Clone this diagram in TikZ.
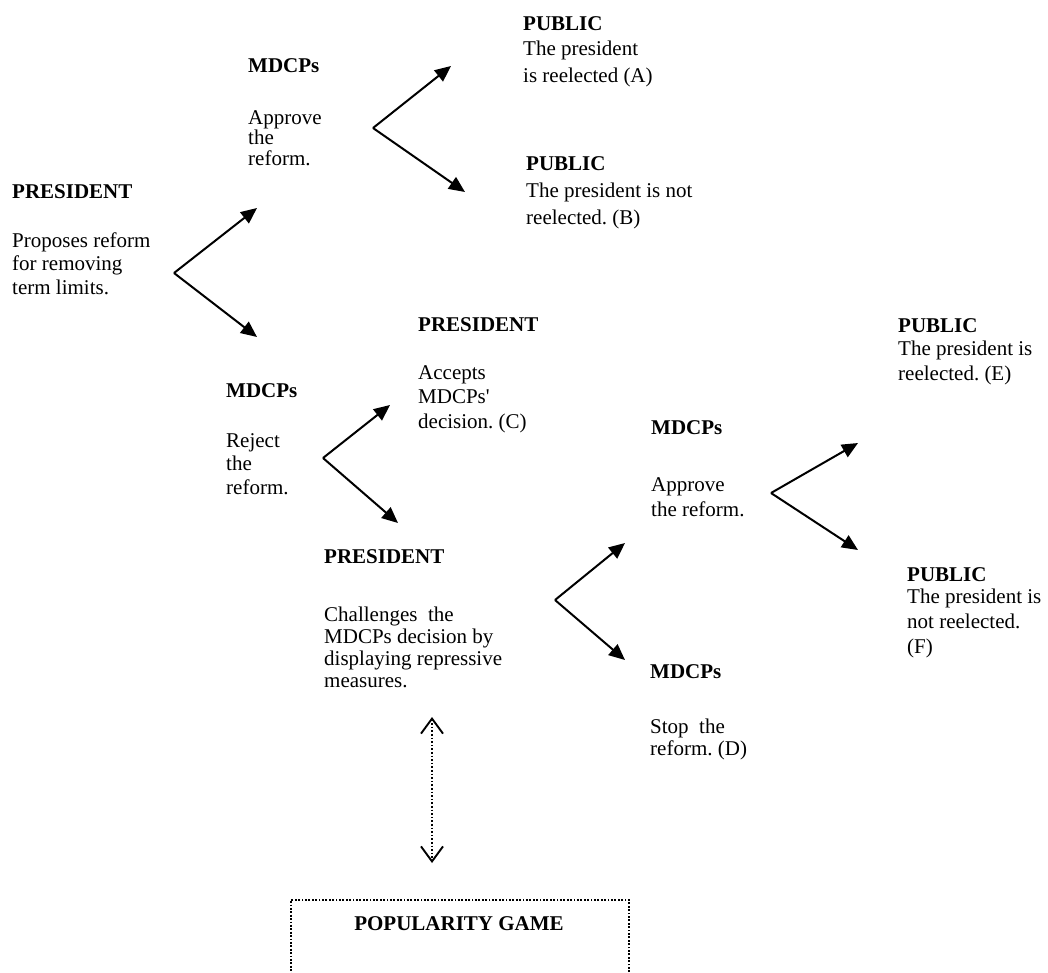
\documentclass[tikz,border=0pt]{standalone}
\usepackage{fontspec}
\setmainfont{Liberation Serif}
\frenchspacing
\usetikzlibrary{arrows.meta}
\begin{document}
\begin{tikzpicture}[x=1pt,y=-1pt,
  head/.style={anchor=base west,inner sep=0pt,font=\fontsize{21}{23}\selectfont\bfseries},
  body/.style={anchor=base west,inner sep=0pt,align=left,font=\fontsize{21}{#1}\selectfont},
  body/.default=23,
  branch/.style={line width=2pt,-{Triangle[length=16pt,width=14pt]}},
  link/.style={line width=1.6pt,dash pattern=on 1.6pt off 2pt,{Straight Barb[length=15pt,width=22pt,line width=1.9pt]}-{Straight Barb[length=15pt,width=22pt,line width=1.9pt]}},
  gamebox/.style={draw,line width=1.8pt,dash pattern=on 1.8pt off 1.6pt,inner sep=0pt,anchor=north west,minimum width=338pt,minimum height=200pt}
]
\useasboundingbox (0,0) rectangle (1048,972);

% texts (body nodes are placed by the baseline of their last line)
\node[head] (rooth) at (12,198) {PRESIDENT};
\node[body=23.5] (root) at (12,294) {Proposes reform\\for removing\\term limits.};

\node[head] (apph) at (248,72) {MDCPs};
\node[body=20.8] (app) at (248,165.6) {Approve\\the\\reform.};

\node[head] (pubAh) at (523,30) {PUBLIC};
\node[body=27] (pubA) at (523,82) {The president\\is reelected (A)};

\node[head] (pubBh) at (526,170) {PUBLIC};
\node[body=27] (pubB) at (526,224) {The president is not\\reelected. (B)};

\node[head] (acch) at (418,331) {PRESIDENT};
\node[body=24.5] (acc) at (418,428) {Accepts\\MDCPs\textquotesingle\\decision. (C)};

\node[head] (rejh) at (226,397) {MDCPs};
\node[body=23.5] (rej) at (226,494) {Reject\\the\\reform.};

\node[head] (chah) at (324,563) {PRESIDENT};
\node[body=22] (cha) at (324,687) {Challenges\ \ the\\MDCPs decision by\\displaying repressive\\measures.};

\node[head] (app2h) at (651,434) {MDCPs};
\node[body=25.5] (app2) at (651,516.5) {Approve\\the reform.};

\node[head] (stoph) at (650,678) {MDCPs};
\node[body=22] (stop) at (650,755) {Stop\ \ the\\reform. (D)};

\node[head] (pubEh) at (898,332) {PUBLIC};
\node[body=24.5] (pubE) at (898,380) {The president is\\reelected. (E)};

\node[head] (pubFh) at (907,581) {PUBLIC};
\node[body=25] (pubF) at (907,653) {The president is\\not reelected.\\(F)};

% popularity game box
\node[gamebox] (game) at (290,899) {};
\node[head,anchor=base] (gameh) at (459,930) {POPULARITY GAME};

% fork coordinates
\coordinate (f1) at (174,273);
\coordinate (f1a) at (257,208);
\coordinate (f1b) at (257,337);
\coordinate (f2) at (373,128);
\coordinate (f2a) at (451,66);
\coordinate (f2b) at (465,192);
\coordinate (f3) at (323,458);
\coordinate (f3a) at (390,405);
\coordinate (f3b) at (398,523);
\coordinate (f4) at (555,600);
\coordinate (f4a) at (625,543);
\coordinate (f4b) at (625,660);
\coordinate (f5) at (771,493);
\coordinate (f5a) at (858,443);
\coordinate (f5b) at (858,550);
\coordinate (d1) at (432,717);
\coordinate (d2) at (432,863);

\draw[branch] (f1) -- (f1a);
\draw[branch] (f1) -- (f1b);
\draw[branch] (f2) -- (f2a);
\draw[branch] (f2) -- (f2b);
\draw[branch] (f3) -- (f3a);
\draw[branch] (f3) -- (f3b);
\draw[branch] (f4) -- (f4a);
\draw[branch] (f4) -- (f4b);
\draw[branch] (f5) -- (f5a);
\draw[branch] (f5) -- (f5b);
\draw[link] (d1) -- (d2);
\end{tikzpicture}
\end{document}
